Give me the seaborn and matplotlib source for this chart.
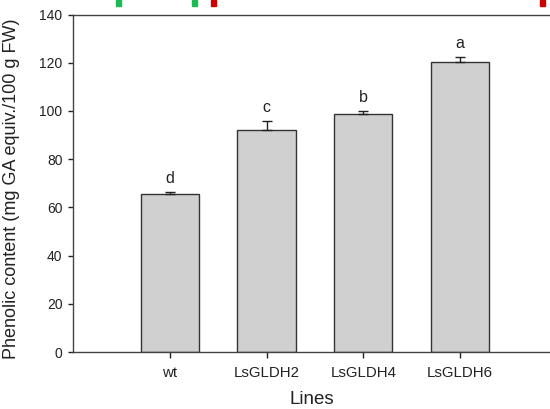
import matplotlib
matplotlib.use("Agg")
import matplotlib.pyplot as plt
import seaborn as sns
import numpy as np
import pandas as pd
from matplotlib.patches import Rectangle

lines = ["wt", "LsGLDH2", "LsGLDH4", "LsGLDH6"]
phenolic = [65.7, 92.0, 98.7, 120.4]
sem = [0.8, 4.0, 1.4, 1.9]
letters = ["d", "c", "b", "a"]
y_ticks = [0, 20, 40, 60, 80, 100, 120, 140]

sns.set_theme(style="white")
plt.rcParams["font.family"] = ["Liberation Sans", "DejaVu Sans"]

df = pd.DataFrame({"Lines": lines, "Phenolic": phenolic})

fig = plt.figure(figsize=(5.5, 4.09), dpi=100)
ax = fig.add_axes([73 / 550, 1 - 352 / 409, 1 - 73 / 550, (352 - 14.5) / 409])

sns.barplot(data=df, x="Lines", y="Phenolic", color="#d0d0d0", edgecolor="#333333",
            linewidth=1.0, width=0.6, errorbar=None, saturation=1, ax=ax)
for p in ax.patches:
    p.set_facecolor("#d0d0d0")

xs = np.arange(len(lines))
ax.errorbar(xs, phenolic, yerr=[np.zeros(len(sem)), sem], fmt="none",
            ecolor="#222222", elinewidth=1.0, capsize=3.6, capthick=1.0)
for x, v, e, l in zip(xs, phenolic, sem, letters):
    ax.annotate(l, (x, v + e), xytext=(0, 6.5), textcoords="offset points",
                ha="center", va="baseline", fontsize=11.5, color="#222222")

ax.set_ylim(0, 140)
ax.set_xlim(-1.0, 3.93)
ax.set_yticks(y_ticks)
ax.set_xlabel("Lines", fontsize=13.5, color="#222222", labelpad=8)
ax.set_ylabel("Phenolic content (mg GA equiv./100 g FW)", fontsize=13,
              color="#222222")
ax.yaxis.set_label_coords(-0.111, 0.483)
ax.tick_params(axis="y", direction="out", length=3.6, width=1, pad=4, left=True,
               labelsize=10, colors="#222222")
ax.tick_params(axis="x", direction="out", length=4, width=1, pad=6, bottom=True,
               labelsize=10.8, colors="#222222")
for s in ["left", "bottom", "top"]:
    ax.spines[s].set_visible(True)
    ax.spines[s].set_color("#444444")
    ax.spines[s].set_linewidth(1.0)
ax.spines["right"].set_visible(False)

# colored registration marks at the top edge of the image
for x0, x1, c in [(116, 121, "#1db954"), (191.5, 196.5, "#1db954"),
                  (210.5, 215.5, "#cc0000"), (539.5, 544.5, "#cc0000")]:
    fig.patches.append(Rectangle((x0 / 550, 1 - 5.5 / 409), (x1 - x0) / 550, 5.5 / 409,
                                 transform=fig.transFigure, color=c, zorder=10))

fig.savefig("out.png", dpi=100)
